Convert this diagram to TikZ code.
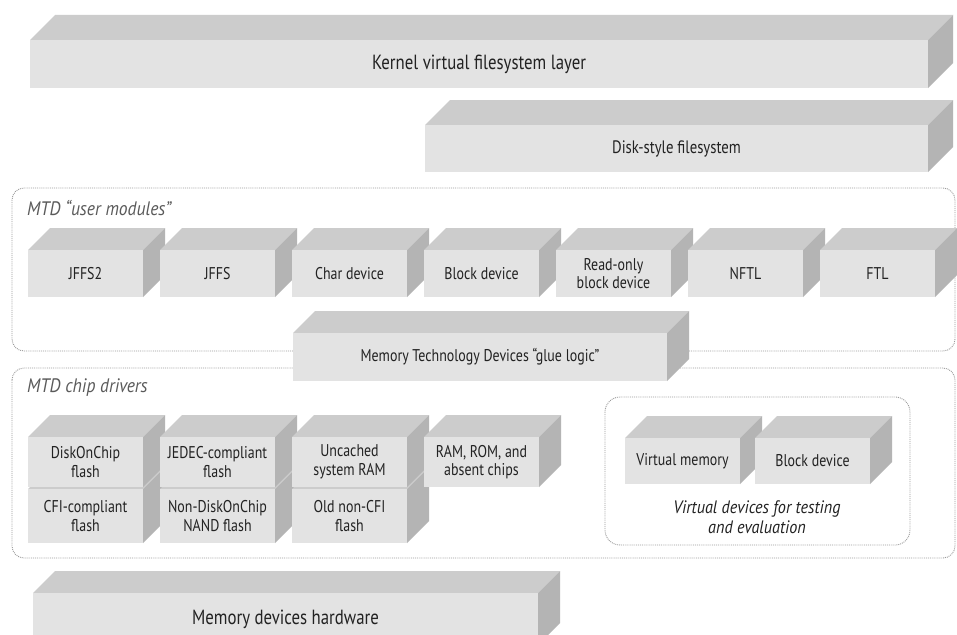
\documentclass[tikz,border=0pt]{standalone}
\usepackage{fontspec}
\setmainfont[FakeStretch=0.82]{PT Sans}
\newfontfamily\labelfont[FakeStretch=0.9]{PT Sans}
\definecolor{frontc}{HTML}{E3E3E3}
\definecolor{topc}{HTML}{CCCCCC}
\definecolor{sidec}{HTML}{B4B4B4}
\definecolor{txtc}{HTML}{222222}
\definecolor{dashc}{HTML}{9A9A9A}
\definecolor{labc}{HTML}{5A5A5A}
\tikzset{
  frontbox/.style={fill=frontc, inner sep=0pt, align=center, text=txtc, font=\fontsize{17}{18.5}\selectfont},
  bigtext/.style={font=\fontsize{20.5}{22}\selectfont},
  midtext/.style={font=\fontsize{18}{20}\selectfont},
  gluetext/.style={font=\fontsize{17}{20}\selectfont},
  groupbox/.style={draw=dashc, densely dotted, line width=0.9pt, rounded corners=12pt},
  grouplabel/.style={anchor=west, inner sep=0pt, text=labc, font=\labelfont\fontsize{19.5}{21}\selectfont\itshape},
}
% [style] name, x0, y0, x1, y1, depth, text
\newcommand\cubeblock[8][]{%
  \fill[topc] (#3,#4) -- (#3+#7,#4-#7) -- (#5+#7,#4-#7) -- (#5,#4) -- cycle;
  \fill[sidec] (#5,#4) -- (#5+#7,#4-#7) -- (#5+#7,#6-#7) -- (#5,#6) -- cycle;
  \pgfmathsetlengthmacro\cubew{(#5-#3)*1pt}%
  \pgfmathsetlengthmacro\cubeh{(#6-#4)*1pt}%
  \node[frontbox, #1, minimum width=\cubew, minimum height=\cubeh] (#2) at ({(#3+#5)/2},{(#4+#6)/2}) {#8};
}
\begin{document}
\begin{tikzpicture}[x=1pt,y=-1pt]
\useasboundingbox (0,0) rectangle (957,634);
\clip (0,0) rectangle (957,634);
\fill[white] (0,0) rectangle (957,634);

% top layers
\cubeblock[bigtext]{kernel}{30}{40}{928}{88}{25}{Kernel virtual filesystem layer}
\cubeblock[midtext]{disk}{425}{125}{928}{172}{25}{Disk-style filesystem}

% user modules group
\draw[groupbox] (12,188) rectangle (955,351);
\node[grouplabel] (umlabel) at (27,208) {MTD “user modules”};
\cubeblock{jffs2}{28}{250}{143}{297}{22}{JFFS2}
\cubeblock{jffs}{160}{250}{275}{297}{22}{JFFS}
\cubeblock{chardev}{292}{250}{407}{297}{22}{Char device}
\cubeblock{blockdev}{424}{250}{539}{297}{22}{Block device}
\cubeblock{robdev}{556}{250}{671}{297}{22}{Read-only\\block device}
\cubeblock{nftl}{688}{250}{803}{297}{22}{NFTL}
\cubeblock{ftl}{820}{250}{935}{297}{22}{FTL}

% chip drivers group
\draw[groupbox] (12,368) rectangle (955,558);
\cubeblock[gluetext]{glue}{293}{333}{667}{381}{22}{Memory Technology Devices “glue logic”}
\node[grouplabel] (cdlabel) at (27,388) {MTD chip drivers};

% second row first
\cubeblock{cfi}{28}{489}{143}{543}{22}{CFI-compliant\\flash}
\cubeblock{nand}{160}{489}{275}{543}{22}{Non-DiskOnChip\\NAND flash}
\cubeblock{oldcfi}{292}{489}{407}{543}{22}{Old non-CFI\\flash}
% first row
\cubeblock{doc}{28}{437}{143}{487}{22}{DiskOnChip\\flash}
\cubeblock{jedec}{160}{437}{275}{487}{22}{JEDEC-compliant\\flash}
\cubeblock{uncached}{292}{437}{407}{487}{22}{Uncached\\system RAM}
\cubeblock{ramrom}{424}{437}{539}{487}{22}{RAM, ROM, and\\absent chips}

% virtual devices
\draw[groupbox, rounded corners=15pt] (605,397) rectangle (910,545);
\cubeblock{vmem}{625}{438}{740}{484}{22}{Virtual memory}
\cubeblock{vblock}{755}{438}{870}{484}{22}{Block device}
\node[text=txtc, align=center, font=\labelfont\fontsize{18}{20}\selectfont\itshape] (vlabel) at (757,517) {Virtual devices for testing\\and evaluation};

% hardware
\cubeblock[bigtext]{hw}{33}{593}{538}{645}{22}{Memory devices hardware}
\end{tikzpicture}
\end{document}
